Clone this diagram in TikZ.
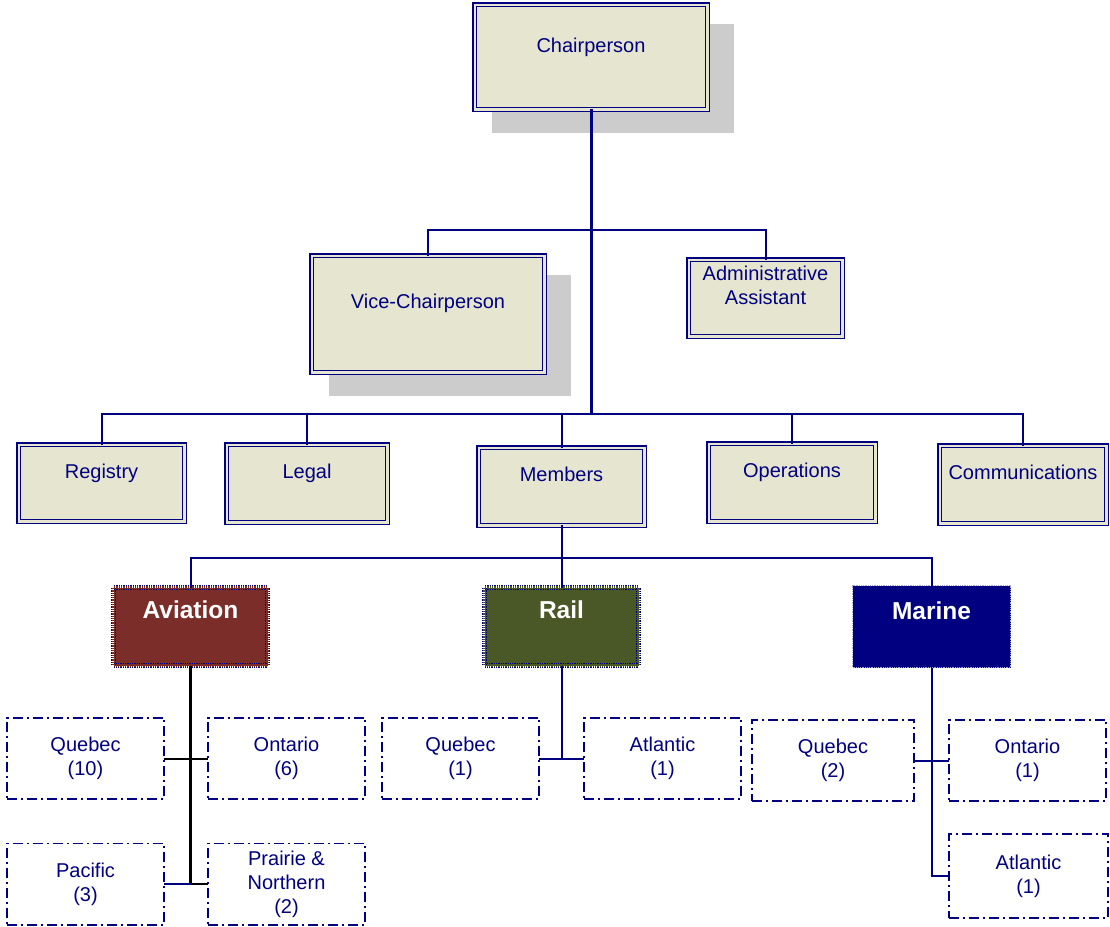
\documentclass[tikz,border=0pt]{standalone}
\usepackage{fontspec}
\setmainfont{Liberation Sans}
\usetikzlibrary{shadows}

\definecolor{navy}{RGB}{0,0,128}
\definecolor{unitfill}{RGB}{230,230,208}
\definecolor{shadowgray}{RGB}{204,204,204}
\definecolor{aviation}{RGB}{123,46,41}
\definecolor{rail}{RGB}{74,87,38}
\definecolor{marine}{RGB}{0,0,128}

\newcommand{\unitfont}{\fontsize{20}{24}\selectfont}
\newcommand{\divfont}{\fontsize{24.5}{29}\selectfont\bfseries}

\begin{document}
\begin{tikzpicture}[
        x=1pt, y=-1pt,
        unit/.style={rectangle, draw=navy, line width=1.5pt, double=unitfill, double distance=2.4pt, fill=unitfill, inner sep=0pt, outer sep=0pt},
        shadowed/.style={drop shadow={shadow xshift=21pt, shadow yshift=-21pt, shadow scale=1.04, fill=shadowgray, opacity=1}},
        toptext/.style={anchor=north, yshift=-#1pt, align=center, text=navy, font=\unitfont, inner sep=0pt},
        division/.style={rectangle, minimum width=154pt, minimum height=78pt, inner sep=0pt, outer sep=0pt},
        dotframe/.style={draw=navy, line width=1.3pt, densely dotted, double=#1, double distance=2.4pt, fill=#1},
        divtext/.style={anchor=north, yshift=-#1pt, text=white, font=\divfont, inner sep=0pt},
        region/.style={rectangle, draw=navy, line width=1.8pt, dash pattern=on 10pt off 4pt on 2pt off 4pt, minimum width=157.2pt, minimum height=81.2pt, align=center, text=navy, font=\unitfont, inner sep=0pt, outer sep=0pt},
        link/.style={draw=navy, line width=2pt},
        trunk/.style={draw=navy, line width=3pt},
        avlink/.style={draw=black, line width=2pt},
        avtrunk/.style={draw=black, line width=3.2pt}
    ]
    \useasboundingbox (0,0) rectangle (1110,926);

    % Chair and direct reports
    \node[unit, shadowed, minimum width=232.6pt, minimum height=104.6pt,
        label={[toptext=32.7]north:Chairperson}] (chair) at (591,57) {};
    \node[unit, shadowed, minimum width=232.6pt, minimum height=116.6pt,
        label={[toptext=37.7]north:Vice-Chairperson}] (vice) at (428,314) {};
    \node[unit, minimum width=153.6pt, minimum height=76.6pt,
        label={[toptext=5.7]north:Administrative\\Assistant}] (admin) at (765.5,298) {};

    % Branches
    \node[unit, minimum width=165.6pt, minimum height=76.6pt,
        label={[toptext=19]north:Registry}] (registry) at (101.5,483) {};
    \node[unit, minimum width=160.6pt, minimum height=77.6pt,
        label={[toptext=19]north:Legal}] (legal) at (307,483.5) {};
    \node[unit, minimum width=165.6pt, minimum height=77.6pt,
        label={[toptext=19]north:Members}] (members) at (561.5,486.5) {};
    \node[unit, minimum width=166.6pt, minimum height=77.6pt,
        label={[toptext=19]north:Operations}] (ops) at (792,482.5) {};
    \node[unit, minimum width=166.6pt, minimum height=77.6pt,
        label={[toptext=19]north:Communications}] (comms) at (1023,484.5) {};

    % Modes
    \node[division, dotframe=aviation, label={[divtext=13.5]north:Aviation}] (aviation) at (190.5,626.5) {};
    \node[division, dotframe=rail, label={[divtext=13.5]north:Rail}] (rail) at (561.5,626.5) {};
    \node[division, fill=marine, draw=navy!35, line width=0.8pt, densely dotted, minimum width=158pt, minimum height=82pt,
        label={[divtext=16.5]north:Marine}] (marine) at (931.5,626.5) {};

    % Regions
    \node[region] (av-qc) at (85.5,758.5) {Quebec\\(10)};
    \node[region] (av-on) at (286.5,758.5) {Ontario\\(6)};
    \node[region] (av-pa) at (85.5,884) {Pacific\\(3)};
    \node[region] (av-pn) at (286.5,884) {Prairie \&\\Northern\\(2)};
    \node[region] (rl-qc) at (460.5,758.5) {Quebec\\(1)};
    \node[region] (rl-at) at (662.5,758.5) {Atlantic\\(1)};
    \node[region, minimum width=162.2pt] (mr-qc) at (833,760.5) {Quebec\\(2)};
    \node[region] (mr-on) at (1027.5,760.5) {Ontario\\(1)};
    \node[region, minimum width=159.2pt, minimum height=84.2pt] (mr-at) at (1028.5,876) {Atlantic\\(1)};

    % Lines
    \coordinate (top-bus) at (591,230);
    \coordinate (mid-bus) at (591,414);
    \coordinate (div-bus) at (561.5,558);
    \coordinate (av-end) at (190.5,884);

    \draw[trunk] (chair.south) -- (mid-bus);
    \draw[link] (vice.north) |- (top-bus) -| (admin.north);
    \draw[link] (registry.north) |- (mid-bus) -| (comms.north);
    \foreach \n in {legal, members, ops}
        \draw[link] (\n.north) -- (\n.north |- mid-bus);
    \draw[link] (members.south) -- (div-bus);
    \draw[link] (aviation.north) |- (div-bus) -| (marine.north);
    \draw[link] (rail.north) -- (div-bus);

    \draw[avtrunk] (aviation.south) -- (av-end);
    \draw[avlink] (av-qc.east) -- (av-on.west);
    \draw[link] (av-pa.east) -- (av-end);
    \draw[avlink] (av-end) -- (av-pn.west);

    \draw[link] (rail.south) -- (rail.south |- rl-qc.east);
    \draw[link] (rl-qc.east) -- (rl-at.west);

    \draw[link] (marine.south) |- (mr-at.west);
    \draw[link] (mr-qc.east) -- (mr-on.west);

    \end{tikzpicture}
\end{document}
